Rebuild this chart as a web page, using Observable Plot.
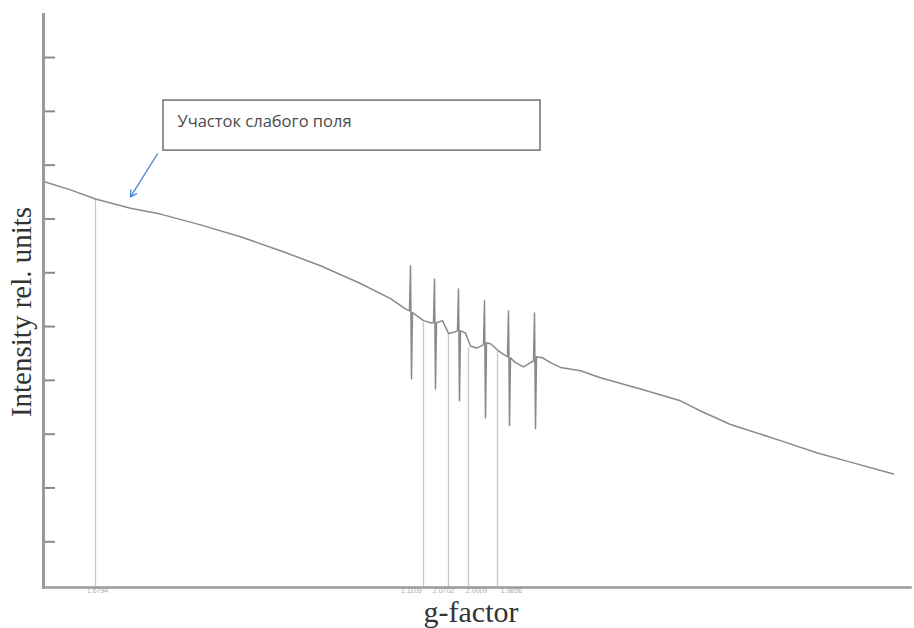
<!DOCTYPE html>
<html>
<head>
<meta charset="utf-8">
<script src="https://cdn.jsdelivr.net/npm/d3@7"></script>
<script src="https://cdn.jsdelivr.net/npm/@observablehq/plot@0.6"></script>
<style>
  html, body { margin: 0; padding: 0; background: #fff; }
  #chart svg { display: block; overflow: visible; }
</style>
</head>
<body>
<div id="chart"></div>
<script>
// EPR spectrum: magnetic field (arb. units) vs. intensity (rel. units)
const field = [
  1, 27, 52, 87, 117, 157, 197, 237, 277, 317, 347, 362,
  366, 367, 368, 369, 380, 387,
  390, 391, 392, 393, 399, 405, 411,
  414, 415, 416, 417, 422, 427, 433,
  440, 441, 442, 443, 447, 455, 462,
  464, 465, 466, 467, 472, 480, 487,
  490, 491, 492, 493, 499, 507, 517,
  537, 557, 597, 637, 657, 687, 737, 774, 807, 850
];
const intensity = [
  7.69, 7.54, 7.37, 7.20, 7.09, 6.89, 6.67, 6.41, 6.13, 5.80, 5.52, 5.33,
  5.29, 6.13, 4.03, 5.26, 5.11, 5.07,
  5.07, 5.88, 3.84, 5.07, 5.11, 4.87, 4.90,
  4.92, 5.70, 3.62, 4.92, 4.88, 4.64, 4.60,
  4.66, 5.48, 3.30, 4.70, 4.68, 4.55, 4.46,
  4.44, 5.29, 3.16, 4.42, 4.33, 4.25, 4.33,
  4.36, 5.25, 3.10, 4.44, 4.42, 4.33, 4.24,
  4.18, 4.05, 3.84, 3.62, 3.43, 3.18, 2.88, 2.65, 2.48, 2.26
];

// Marked resonance positions and the g-factor written under each
const markerField = [52, 380, 405, 425, 454];
const markerIntensity = [7.37, 5.07, 4.87, 4.60, 4.55];
const gLabels = ["1.6794", "2.1109", "2.0702", "2.0009", "1.9856"];
const gLabelField = [54, 368, 400, 433, 468];

const yTicks = [1, 2, 3, 4, 5, 6, 7, 8, 9, 10];

// Callout for the low-field region
const noteText = "Участок слабого поля";
const noteBox = {x1: 120, x2: 497, y1: 8.27, y2: 9.20};
const noteTextAt = {x: 134, y: 8.80};
const noteArrow = {x1: 114, y1: 8.21, x2: 87, y2: 7.41};

const spectrum = field.map((f, i) => ({field: f, intensity: intensity[i]}));
const markers = markerField.map((f, i) => ({field: f, intensity: markerIntensity[i]}));
const markerLabels = gLabels.map((t, i) => ({field: gLabelField[i], label: t}));

const yDomain = [0.15, 10.8];

const chart = Plot.plot({
  width: 914,
  height: 628,
  marginLeft: 43,
  marginRight: 4,
  marginTop: 14,
  marginBottom: 41,
  style: {background: "#fff"},
  x: {domain: [0, 867], axis: null},
  y: {domain: yDomain, axis: null},
  marks: [
    // vertical guides from the baseline to the spectrum
    Plot.ruleX(markers, {x: "field", y1: yDomain[0], y2: "intensity", stroke: "#c6c6c6", strokeWidth: 1.3}),
    // g-factor labels under the field axis
    Plot.text(markerLabels, {x: "field", text: "label", frameAnchor: "bottom", dy: 5, fontSize: 7, fill: "#aaa", fontFamily: "Liberation Sans"}),
    // spectrum trace
    Plot.line(spectrum, {x: "field", y: "intensity", stroke: "#8a8a8a", strokeWidth: 1.5, strokeLinejoin: "round"}),
    // axes
    Plot.axisY({ticks: yTicks, tickSize: -12, tickFormat: () => "", stroke: "#8a8a8a", strokeWidth: 2, label: null}),
    Plot.frame({anchor: "left", stroke: "#9a9a9a", strokeWidth: 3}),
    Plot.frame({anchor: "bottom", stroke: "#9a9a9a", strokeWidth: 2.5}),
    // axis titles
    Plot.text(["Intensity rel. units"], {frameAnchor: "left", textAnchor: "middle", dx: -22, dy: 11, rotate: -90, fontSize: 29, fontFamily: "Liberation Serif", fill: "#333"}),
    Plot.text(["g-factor"], {frameAnchor: "bottom", textAnchor: "middle", dx: -6, dy: 34, fontSize: 30, fontFamily: "Liberation Serif", fill: "#333"}),
    // callout
    Plot.rect([noteBox], {x1: "x1", x2: "x2", y1: "y1", y2: "y2", fill: "#fff", stroke: "#7a7a7a", strokeWidth: 1.6}),
    Plot.text([noteText], {x: noteTextAt.x, y: noteTextAt.y, textAnchor: "start", fontSize: 16.5, fontFamily: "Open Sans", fill: "#4a4a4a"}),
    Plot.arrow([noteArrow], {x1: "x1", y1: "y1", x2: "x2", y2: "y2", stroke: "#4f86d6", strokeWidth: 1.3, headLength: 8})
  ]
});

document.getElementById("chart").appendChild(chart);
</script>
</body>
</html>
